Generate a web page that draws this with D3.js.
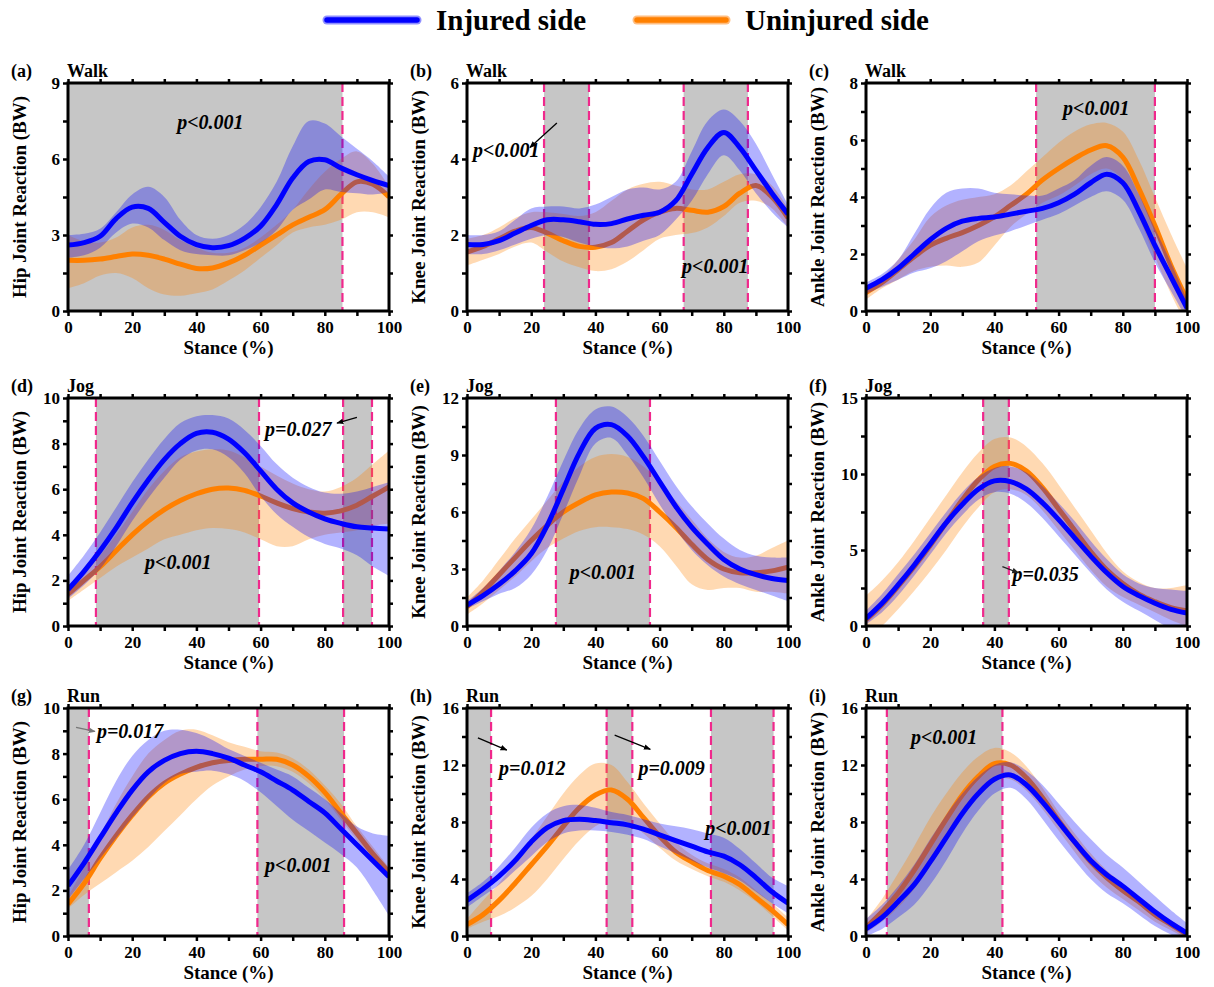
<!DOCTYPE html>
<html>
<head>
<meta charset="utf-8">
<script src="https://cdn.jsdelivr.net/npm/d3@7"></script>
<style>
  body { margin: 0; background: #fff; }
  text { font-family: "Liberation Serif", "Times New Roman", serif; font-weight: bold; fill: #000; }
</style>
</head>
<body>
<svg id="fig" width="1214" height="987"></svg>
<script>
// Stance phase sample points (%)
const stance = [0,5,10,15,20,25,30,35,40,45,50,55,60,65,70,75,80,85,90,95,100];

// ---- Walk: hip ----
const walkHipInj      = [2.6,2.7,2.95,3.65,4.1,4.05,3.5,2.95,2.62,2.5,2.58,2.87,3.35,4.2,5.25,5.9,5.97,5.65,5.38,5.15,4.95];
const walkHipInjHi    = [3.0,3.05,3.25,3.9,4.6,4.9,4.5,3.6,3.0,2.85,3.0,3.4,4.1,5.1,6.5,7.5,7.4,6.9,6.4,5.9,5.3];
const walkHipInjLo    = [2.1,2.2,2.5,3.1,3.45,3.3,2.8,2.4,2.25,2.2,2.2,2.4,2.7,3.2,4.0,4.4,4.8,4.7,4.65,4.6,4.7];
const walkHipUninj    = [2.0,2.0,2.05,2.15,2.25,2.2,2.05,1.85,1.68,1.7,1.9,2.2,2.6,3.0,3.4,3.7,4.0,4.6,5.1,5.0,4.5];
const walkHipUninjHi  = [3.0,2.75,2.7,2.9,3.3,3.4,3.2,2.8,2.5,2.3,2.3,2.5,2.9,3.4,4.0,4.8,5.5,6.0,6.3,5.8,4.9];
const walkHipUninjLo  = [0.9,1.1,1.4,1.5,1.3,0.9,0.65,0.6,0.7,0.85,1.2,1.6,2.1,2.6,3.1,3.3,3.4,3.6,3.9,3.9,3.7];

// ---- Walk: knee ----
const walkKneeInj     = [1.75,1.75,1.85,2.05,2.25,2.4,2.4,2.35,2.28,2.3,2.42,2.52,2.6,2.9,3.6,4.3,4.7,4.3,3.7,3.1,2.55];
const walkKneeInjHi   = [2.0,2.0,2.1,2.4,2.7,2.75,2.75,2.7,2.8,3.0,3.2,3.25,3.2,3.4,4.2,5.0,5.3,5.0,4.4,3.6,2.8];
const walkKneeInjLo   = [1.5,1.5,1.6,1.75,1.9,2.0,1.95,1.8,1.7,1.65,1.7,1.85,2.0,2.4,2.9,3.6,4.1,3.7,3.1,2.6,2.2];
const walkKneeUninj   = [1.55,1.7,1.9,2.1,2.2,2.05,1.85,1.7,1.68,1.8,2.1,2.4,2.6,2.7,2.65,2.6,2.75,3.1,3.3,3.0,2.45];
const walkKneeUninjHi = [1.9,2.0,2.2,2.45,2.6,2.6,2.55,2.5,2.6,2.9,3.2,3.35,3.4,3.3,3.2,3.2,3.4,3.6,3.6,3.3,2.7];
const walkKneeUninjLo = [1.2,1.35,1.5,1.7,1.8,1.55,1.3,1.15,1.05,1.1,1.3,1.6,1.9,2.0,2.05,2.2,2.5,2.85,2.9,2.7,2.2];

// ---- Walk: ankle ----
const walkAnkleInj     = [0.8,1.1,1.5,2.0,2.5,2.9,3.15,3.25,3.3,3.4,3.5,3.6,3.8,4.1,4.5,4.8,4.5,3.5,2.3,1.2,0.1];
const walkAnkleInjHi   = [1.0,1.3,1.8,2.7,3.6,4.15,4.3,4.3,4.15,4.1,4.05,4.05,4.3,4.6,5.1,5.4,5.1,4.1,2.9,1.7,0.4];
const walkAnkleInjLo   = [0.6,0.85,1.1,1.35,1.5,1.75,2.1,2.45,2.65,2.8,3.0,3.2,3.4,3.7,4.0,4.2,3.9,2.9,1.7,0.7,-0.3];
const walkAnkleUninj   = [0.65,1.0,1.45,1.9,2.3,2.55,2.75,3.0,3.3,3.7,4.1,4.6,5.0,5.35,5.65,5.8,5.4,4.3,3.0,1.6,0.4];
const walkAnkleUninjHi = [0.9,1.2,1.8,2.5,3.3,3.7,3.9,4.0,4.1,4.4,4.9,5.4,5.9,6.3,6.55,6.6,6.3,5.3,4.0,2.7,1.5];
const walkAnkleUninjLo = [0.4,0.8,1.1,1.4,1.55,1.6,1.55,1.7,2.3,2.95,3.4,3.8,4.05,4.4,4.8,5.0,4.6,3.3,1.9,0.6,-0.5];

// ---- Jog: hip ----
const jogHipInj      = [1.6,2.4,3.3,4.3,5.4,6.4,7.3,8.0,8.45,8.5,8.2,7.6,6.8,6.0,5.4,5.0,4.7,4.5,4.35,4.3,4.25];
const jogHipInjHi    = [2.2,3.1,4.1,5.2,6.3,7.3,8.2,8.9,9.2,9.25,9.1,8.6,7.9,7.1,6.5,6.1,5.85,5.8,5.9,6.1,6.3];
const jogHipInjLo    = [1.2,1.8,2.5,3.5,4.6,5.6,6.5,7.3,7.7,7.75,7.4,6.7,5.7,4.9,4.35,3.9,3.6,3.4,3.1,2.6,2.2];
const jogHipUninj    = [1.4,2.0,2.6,3.3,4.0,4.6,5.1,5.5,5.8,6.0,6.05,5.95,5.7,5.4,5.15,5.0,4.95,5.05,5.3,5.7,6.1];
const jogHipUninjHi  = [1.7,2.4,3.1,4.0,5.0,6.0,6.8,7.4,7.65,7.75,7.7,7.4,7.0,6.6,6.25,6.0,5.9,6.1,6.5,7.1,7.7];
const jogHipUninjLo  = [1.1,1.6,2.1,2.6,3.0,3.4,3.8,4.0,4.2,4.3,4.25,4.1,3.8,3.5,3.5,3.8,4.0,4.1,4.2,4.4,4.5];

// ---- Jog: knee ----
const jogKneeInj     = [1.1,1.6,2.2,2.9,3.8,5.3,7.2,9.1,10.4,10.6,10.0,8.9,7.6,6.3,5.2,4.3,3.5,3.0,2.7,2.5,2.4];
const jogKneeInjHi   = [1.3,2.0,2.9,3.9,5.1,6.8,8.7,10.4,11.4,11.55,11.0,10.0,8.7,7.4,6.3,5.4,4.6,4.0,3.7,3.6,3.6];
const jogKneeInjLo   = [0.9,1.3,1.7,2.0,2.7,4.0,5.9,7.9,9.6,9.9,9.0,7.8,6.4,5.1,4.0,3.2,2.6,2.2,1.9,1.6,1.3];
const jogKneeUninj   = [1.0,1.8,2.7,3.6,4.5,5.3,6.0,6.5,6.9,7.05,7.0,6.7,6.0,5.2,4.3,3.5,3.0,2.8,2.8,2.9,3.1];
const jogKneeUninjHi = [1.5,2.4,3.5,4.6,5.6,6.6,7.6,8.4,8.9,9.05,8.9,8.4,7.6,6.6,5.6,4.6,3.9,3.6,3.7,4.1,4.5];
const jogKneeUninjLo = [0.6,1.2,1.9,2.6,3.4,4.1,4.6,5.0,5.2,5.2,5.1,4.8,4.2,3.2,2.2,1.9,2.0,2.0,1.8,1.8,1.7];

// ---- Jog: ankle ----
const jogAnkleInj     = [0.5,1.5,2.7,4.0,5.4,6.8,8.0,9.0,9.55,9.5,9.0,8.1,7.0,5.8,4.6,3.5,2.6,2.0,1.5,1.1,0.85];
const jogAnkleInjHi   = [1.0,2.1,3.4,4.7,6.1,7.5,8.8,9.8,10.4,10.5,10.1,9.2,8.1,6.9,5.6,4.4,3.4,2.8,2.5,2.4,2.3];
const jogAnkleInjLo   = [0.1,0.9,2.0,3.3,4.7,6.1,7.3,8.3,8.8,8.7,8.1,7.1,5.9,4.7,3.5,2.4,1.6,1.0,0.4,-0.2,-0.6];
const jogAnkleUninj   = [0.4,1.4,2.6,3.9,5.3,6.8,8.3,9.6,10.5,10.7,10.2,9.1,7.7,6.3,4.9,3.7,2.8,2.1,1.6,1.2,1.0];
const jogAnkleUninjHi = [2.0,3.0,4.2,5.6,7.1,8.6,10.1,11.4,12.3,12.4,11.8,10.7,9.3,7.8,6.3,4.8,3.6,2.9,2.5,2.5,2.7];
const jogAnkleUninjLo = [-0.9,0.0,1.1,2.3,3.6,5.0,6.5,7.8,8.8,9.0,8.6,7.6,6.3,5.0,3.7,2.6,1.9,1.4,0.9,0.4,0.0];

// ---- Run: hip ----
const runHipInj      = [2.2,3.2,4.3,5.4,6.4,7.2,7.7,8.0,8.1,8.0,7.8,7.5,7.2,6.8,6.4,5.9,5.4,4.7,4.0,3.3,2.6];
const runHipInjHi    = [2.9,4.0,5.4,6.8,7.9,8.6,9.0,9.05,8.9,8.6,8.2,7.9,7.6,7.3,7.0,6.5,6.0,5.4,4.8,4.5,4.4];
const runHipInjLo    = [1.6,2.5,3.4,4.3,5.2,6.0,6.7,7.1,7.2,7.25,7.1,6.8,6.3,5.7,5.1,4.6,4.1,3.6,3.0,2.0,0.9];
const runHipUninj    = [1.4,2.3,3.4,4.4,5.3,6.1,6.7,7.1,7.4,7.6,7.7,7.75,7.75,7.75,7.5,7.0,6.3,5.4,4.5,3.6,2.8];
const runHipUninjHi  = [1.7,3.0,4.4,5.8,7.0,8.0,8.6,9.0,9.05,8.8,8.5,8.3,8.1,8.05,7.8,7.3,6.6,5.8,4.8,3.9,3.0];
const runHipUninjLo  = [1.2,1.8,2.3,2.8,3.3,3.9,4.6,5.3,6.0,6.6,7.0,7.3,7.45,7.45,7.2,6.7,6.0,5.1,4.2,3.3,2.5];

// ---- Run: knee ----
const runKneeInj     = [2.5,3.3,4.2,5.3,6.6,7.6,8.1,8.2,8.1,7.95,7.8,7.5,7.1,6.7,6.3,5.9,5.6,5.0,4.1,3.1,2.3];
const runKneeInjHi   = [3.0,3.8,4.9,6.2,7.6,8.6,9.1,9.2,9.0,8.7,8.5,8.2,7.9,7.7,7.5,7.2,6.9,6.1,5.1,4.1,3.5];
const runKneeInjLo   = [2.0,2.8,3.6,4.6,5.6,6.6,7.2,7.4,7.4,7.3,7.1,6.8,6.3,5.8,5.3,4.8,4.4,3.9,3.1,2.3,1.6];
const runKneeUninj   = [0.8,1.5,2.5,3.7,5.0,6.3,7.7,9.0,9.9,10.25,9.6,8.3,7.0,5.9,5.2,4.6,4.2,3.6,2.7,1.8,0.8];
const runKneeUninjHi = [1.2,2.5,3.7,5.2,6.8,8.4,10.0,11.3,12.1,12.0,10.8,9.3,7.9,6.6,5.7,5.1,4.7,4.1,3.2,2.3,1.3];
const runKneeUninjLo = [0.5,1.0,1.4,2.0,2.8,4.0,5.4,6.7,7.7,8.2,8.0,7.2,6.2,5.3,4.7,4.2,3.8,3.2,2.4,1.4,0.4];

// ---- Run: ankle ----
const runAnkleInj     = [0.5,1.3,2.4,3.6,5.2,6.9,8.6,10.0,11.0,11.3,10.6,9.4,8.0,6.6,5.3,4.3,3.5,2.6,1.7,0.9,0.2];
const runAnkleInjHi   = [1.2,2.2,3.5,5.0,6.8,8.5,10.0,11.2,12.0,12.2,11.6,10.6,9.3,8.0,6.8,5.7,4.8,3.8,2.8,1.8,0.9];
const runAnkleInjLo   = [0.0,0.5,1.3,2.2,3.6,5.3,7.2,8.8,10.0,10.4,9.6,8.2,6.7,5.3,4.0,3.0,2.3,1.5,0.7,0.1,-0.5];
const runAnkleUninj   = [0.6,1.7,3.0,4.6,6.4,8.2,9.9,11.2,12.1,12.0,11.1,9.7,8.1,6.6,5.2,4.1,3.2,2.4,1.5,0.8,0.1];
const runAnkleUninjHi = [1.1,2.6,4.4,6.3,8.3,10.0,11.5,12.6,13.2,12.9,11.9,10.4,8.7,7.2,5.8,4.6,3.7,2.8,1.9,1.1,0.4];
const runAnkleUninjLo = [0.2,1.0,2.0,3.3,4.9,6.7,8.5,10.0,11.0,11.0,10.2,8.9,7.4,5.9,4.5,3.4,2.6,1.8,1.0,0.4,-0.2];

// Y-axis ranges and tick steps per joint/condition
const yMaxes = [9, 6, 8, 10, 12, 15, 10, 16, 16];
const ySteps = [3, 2, 2, 2, 3, 5, 2, 4, 4];

// Significant regions (stance %)
const walkHipSig   = [[0, 85.5]];
const walkKneeSig  = [[24, 38], [67.5, 87.5]];
const walkAnkleSig = [[53, 90]];
const jogHipSig    = [[8.7, 59.5], [85.7, 94.7]];
const jogKneeSig   = [[27.7, 57]];
const jogAnkleSig  = [[36.5, 44.5]];
const runHipSig    = [[0, 6.5], [59, 86]];
const runKneeSig   = [[0, 7.5], [43.5, 51.5], [76, 95.5]];
const runAnkleSig  = [[6.5, 42.5]];

// p-value labels: [text, stance %, value]
const walkHipP   = [["p<0.001", 34, 7.2]];
const walkKneeP  = [["p<0.001", 1.9, 4.05], ["p<0.001", 67, 1.0]];
const walkAnkleP = [["p<0.001", 61.4, 6.88]];
const jogHipP    = [["p<0.001", 24, 2.5], ["p=0.027", 61.4, 8.35]];
const jogKneeP   = [["p<0.001", 32, 2.45]];
const jogAnkleP  = [["p=0.035", 45.6, 2.95]];
const runHipP    = [["p=0.017", 9, 8.7], ["p<0.001", 61.4, 2.8]];
const runKneeP   = [["p=0.012", 10, 11.3], ["p=0.009", 53.4, 11.3], ["p<0.001", 74.2, 7.1]];
const runAnkleP  = [["p<0.001", 14, 13.5]];

// Pointer arrows: [x0, y0, x1, y1, colour]
const walkKneeArrows = [[28, 4.95, 19.6, 4.3, "#000"]];
const jogHipArrows   = [[90, 9.15, 83.8, 8.9, "#000"]];
const jogAnkleArrows = [[42.5, 3.9, 47.5, 3.5, "#222"]];
const runHipArrows   = [[2.5, 9.15, 8.4, 8.97, "#777"]];
const runKneeArrows  = [[3.4, 13.9, 12.4, 13.05, "#000"], [46, 14.1, 57.1, 13.1, "#000"]];

const panelTags  = ["(a)","(b)","(c)","(d)","(e)","(f)","(g)","(h)","(i)"];
const activities = ["Walk","Walk","Walk","Jog","Jog","Jog","Run","Run","Run"];
const jointTitles = ["Hip Joint Reaction (BW)","Knee Joint Reaction (BW)","Ankle Joint Reaction (BW)"];

const panels = [
  [walkHipInj, walkHipInjHi, walkHipInjLo, walkHipUninj, walkHipUninjHi, walkHipUninjLo, walkHipSig, walkHipP, []],
  [walkKneeInj, walkKneeInjHi, walkKneeInjLo, walkKneeUninj, walkKneeUninjHi, walkKneeUninjLo, walkKneeSig, walkKneeP, walkKneeArrows],
  [walkAnkleInj, walkAnkleInjHi, walkAnkleInjLo, walkAnkleUninj, walkAnkleUninjHi, walkAnkleUninjLo, walkAnkleSig, walkAnkleP, []],
  [jogHipInj, jogHipInjHi, jogHipInjLo, jogHipUninj, jogHipUninjHi, jogHipUninjLo, jogHipSig, jogHipP, jogHipArrows],
  [jogKneeInj, jogKneeInjHi, jogKneeInjLo, jogKneeUninj, jogKneeUninjHi, jogKneeUninjLo, jogKneeSig, jogKneeP, []],
  [jogAnkleInj, jogAnkleInjHi, jogAnkleInjLo, jogAnkleUninj, jogAnkleUninjHi, jogAnkleUninjLo, jogAnkleSig, jogAnkleP, jogAnkleArrows],
  [runHipInj, runHipInjHi, runHipInjLo, runHipUninj, runHipUninjHi, runHipUninjLo, runHipSig, runHipP, runHipArrows],
  [runKneeInj, runKneeInjHi, runKneeInjLo, runKneeUninj, runKneeUninjHi, runKneeUninjLo, runKneeSig, runKneeP, runKneeArrows],
  [runAnkleInj, runAnkleInjHi, runAnkleInjLo, runAnkleUninj, runAnkleUninjHi, runAnkleUninjLo, runAnkleSig, runAnkleP, []]
];

// ---- layout & style ----
const colLeft = [68, 467, 866];
const rowTop = [83, 398, 708];
const W = 321, H = 228;
const BLUE = "#0000ff", ORANGE = "#ff8000";
const BLUE_BAND = "rgba(0,0,255,0.3)", ORANGE_BAND = "rgba(255,128,0,0.3)";
const SHADE = "#c6c6c6", DASH = "#f0288c";

const svg = d3.select("#fig");
const defs = svg.append("defs");

["#000", "#222", "#777"].forEach((c, i) => {
  defs.append("marker")
    .attr("id", "arrow" + i)
    .attr("viewBox", "0 0 10 10")
    .attr("refX", 9).attr("refY", 5)
    .attr("markerWidth", 7).attr("markerHeight", 7)
    .attr("markerUnits", "userSpaceOnUse")
    .attr("orient", "auto")
    .append("path").attr("d", "M0,1 L10,5 L0,9 z").attr("fill", c);
});
const markerFor = c => c === "#000" ? "url(#arrow0)" : c === "#222" ? "url(#arrow1)" : "url(#arrow2)";

// ---- legend ----
const legend = svg.append("g");
legend.append("line").attr("x1", 327).attr("x2", 417).attr("y1", 20).attr("y2", 20)
  .attr("stroke", "#8f8fff").attr("stroke-width", 9).attr("stroke-linecap", "round");
legend.append("line").attr("x1", 327).attr("x2", 417).attr("y1", 20).attr("y2", 20)
  .attr("stroke", BLUE).attr("stroke-width", 5.5).attr("stroke-linecap", "round");
legend.append("text").attr("x", 436).attr("y", 30).attr("font-size", 29).text("Injured side");
legend.append("line").attr("x1", 637).attr("x2", 726).attr("y1", 20).attr("y2", 20)
  .attr("stroke", "#ffbd80").attr("stroke-width", 9).attr("stroke-linecap", "round");
legend.append("line").attr("x1", 637).attr("x2", 726).attr("y1", 20).attr("y2", 20)
  .attr("stroke", ORANGE).attr("stroke-width", 5.5).attr("stroke-linecap", "round");
legend.append("text").attr("x", 745).attr("y", 30).attr("font-size", 29).text("Uninjured side");

// ---- panels ----
panels.forEach((p, i) => {
  const [inj, injHi, injLo, un, unHi, unLo, sig, pLabels, arrows] = p;
  const left = colLeft[i % 3], top = rowTop[Math.floor(i / 3)];
  const yMax = yMaxes[i], step = ySteps[i];

  const x = d3.scaleLinear().domain([0, 100]).range([0, W]);
  const y = d3.scaleLinear().domain([0, yMax]).range([H, 0]);

  const g = svg.append("g").attr("transform", `translate(${left},${top})`);

  const clipId = "clip" + i;
  defs.append("clipPath").attr("id", clipId)
    .append("rect").attr("x", 0).attr("y", 0).attr("width", W).attr("height", H);

  const plot = g.append("g").attr("clip-path", `url(#${clipId})`);

  // significant regions
  plot.selectAll("rect.sig").data(sig).join("rect").attr("class", "sig")
    .attr("x", d => x(d[0])).attr("width", d => x(d[1]) - x(d[0]))
    .attr("y", 0).attr("height", H).attr("fill", SHADE);

  // region boundaries
  const edges = [];
  sig.forEach(d => d.forEach(v => { if (v > 0 && v < 100) edges.push(v); }));
  plot.selectAll("line.edge").data(edges).join("line").attr("class", "edge")
    .attr("x1", d => x(d)).attr("x2", d => x(d)).attr("y1", 0).attr("y2", H)
    .attr("stroke", DASH).attr("stroke-width", 2.2).attr("stroke-dasharray", "9,5");

  const curve = d3.curveCatmullRom.alpha(0.5);
  const band = (hi, lo) => d3.area().curve(curve)
    .x((d, k) => x(stance[k])).y0((d, k) => y(lo[k])).y1((d, k) => y(hi[k]))(stance);
  const line = vals => d3.line().curve(curve)
    .x((d, k) => x(stance[k])).y(d => y(d))(vals);

  plot.append("path").attr("d", band(unHi, unLo)).attr("fill", ORANGE_BAND);
  plot.append("path").attr("d", line(un)).attr("fill", "none").attr("stroke", ORANGE)
    .attr("stroke-width", 5).attr("stroke-linejoin", "round");
  plot.append("path").attr("d", band(injHi, injLo)).attr("fill", BLUE_BAND);
  plot.append("path").attr("d", line(inj)).attr("fill", "none").attr("stroke", BLUE)
    .attr("stroke-width", 5).attr("stroke-linejoin", "round");

  // axes
  const xTicks = d3.range(0, 101, 10);
  const yTicks = d3.range(0, yMax + 1e-9, step / 2);
  const styleAxis = sel => {
    sel.select(".domain").remove();
    sel.selectAll(".tick line").attr("stroke", "#000").attr("stroke-width", 2.5);
    sel.selectAll(".tick text").attr("font-size", 17)
      .attr("font-family", "'Liberation Serif','Times New Roman',serif").attr("font-weight", "bold");
  };
  g.append("g").attr("transform", `translate(0,${H})`)
    .call(d3.axisBottom(x).tickValues(xTicks).tickSize(5).tickPadding(5)
      .tickFormat(d => d % 20 === 0 ? d : ""))
    .call(styleAxis);
  g.append("g")
    .call(d3.axisTop(x).tickValues(xTicks).tickSize(4).tickFormat(""))
    .call(styleAxis);
  g.append("g")
    .call(d3.axisLeft(y).tickValues(yTicks).tickSize(5).tickPadding(3)
      .tickFormat(d => Math.abs(d / step - Math.round(d / step)) < 1e-6 ? d : ""))
    .call(styleAxis);
  g.append("g").attr("transform", `translate(${W},0)`)
    .call(d3.axisRight(y).tickValues(yTicks).tickSize(4).tickFormat(""))
    .call(styleAxis);

  // frame
  g.append("rect").attr("x", 0).attr("y", 0).attr("width", W).attr("height", H)
    .attr("fill", "none").attr("stroke", "#000").attr("stroke-width", 3);

  // titles
  g.append("text").attr("x", W / 2).attr("y", H + 43).attr("text-anchor", "middle")
    .attr("font-size", 19).text("Stance (%)");
  g.append("text").attr("transform", `translate(-42,${H / 2}) rotate(-90)`)
    .attr("text-anchor", "middle").attr("font-size", 19).text(jointTitles[i % 3]);
  g.append("text").attr("x", -57).attr("y", -6).attr("font-size", 18).text(panelTags[i]);
  g.append("text").attr("x", -1).attr("y", -6).attr("font-size", 18).text(activities[i]);

  // p-values
  g.selectAll("text.pval").data(pLabels).join("text").attr("class", "pval")
    .attr("x", d => x(d[1])).attr("y", d => y(d[2]))
    .attr("font-size", 20).attr("font-style", "italic").text(d => d[0]);

  // pointer arrows
  g.selectAll("line.arrow").data(arrows).join("line").attr("class", "arrow")
    .attr("x1", d => x(d[0])).attr("y1", d => y(d[1]))
    .attr("x2", d => x(d[2])).attr("y2", d => y(d[3]))
    .attr("stroke", d => d[4]).attr("stroke-width", 1.3)
    .attr("marker-end", d => markerFor(d[4]));
});
</script>
</body>
</html>
